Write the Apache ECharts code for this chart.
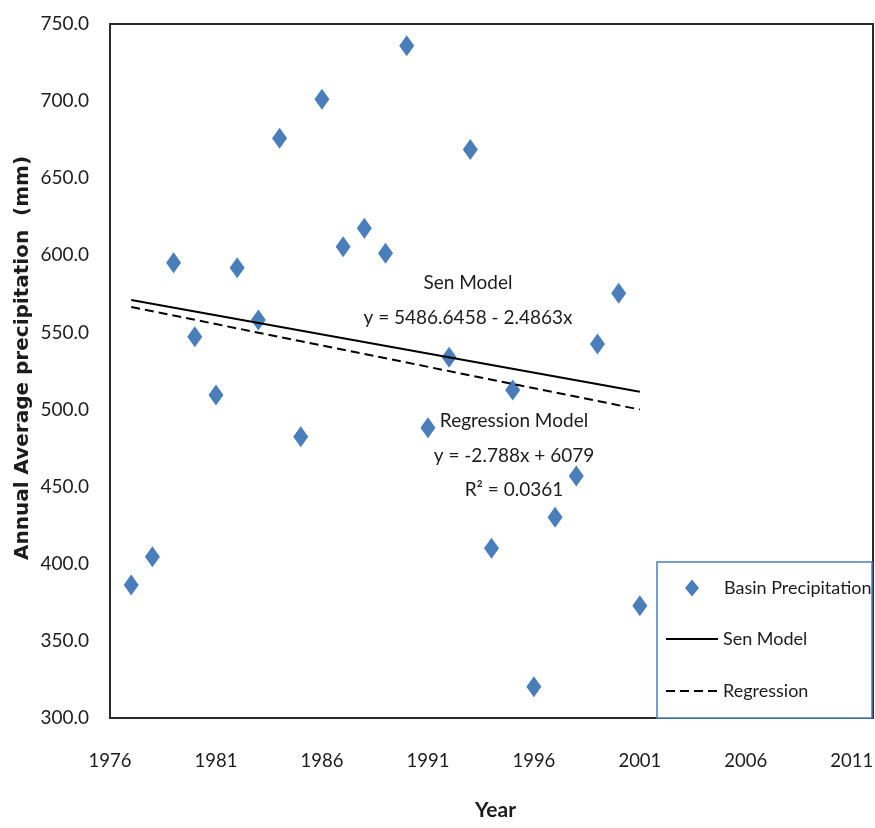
<!DOCTYPE html>
<html>
<head>
<meta charset="utf-8">
<script src="https://cdn.jsdelivr.net/npm/echarts/dist/echarts.min.js"></script>
<style>
  html, body { margin: 0; padding: 0; background: #fff; }
  #chart { width: 875px; height: 828px; }
</style>
</head>
<body>
<div id="chart"></div>
<script>
// ---- data ----
const years = [1977, 1978, 1979, 1980, 1981, 1982, 1983, 1984, 1985, 1986, 1987, 1988, 1989,
               1990, 1991, 1992, 1993, 1994, 1995, 1996, 1997, 1998, 1999, 2000, 2001];
const precipitation = [386.2, 404.6, 595.2, 547.2, 509.4, 592.0, 558.1, 675.9, 482.4, 701.2, 605.6, 617.5, 601.3,
                       735.9, 488.2, 533.9, 668.7, 410.0, 512.7, 320.3, 430.1, 456.9, 542.5, 575.4, 372.8];
const trendYears = [1977, 2001];
const senValues = [571.0, 511.6];
const regressionValues = [566.5, 500.0];
const xMin = 1976, xMax = 2012, xStep = 5;
const yMin = 300, yMax = 750, yStep = 50;
const seriesNames = ['Basin Precipitation', 'Sen Model', 'Regression'];
const senLabel = ['Sen Model', 'y = 5486.6458 - 2.4863x'];
const regLabel = ['Regression Model', 'y = -2.788x + 6079', 'R\u00B2 = 0.0361'];
const xTitle = 'Year';
const yTitle = 'Annual Average precipitation  (mm)';

// ---- chart ----
const FONT = "Lato, 'Open Sans', sans-serif";
const TXT = '#1c1c1c';
const chart = echarts.init(document.getElementById('chart'), null, { renderer: 'canvas' });

const pts = years.map((y, i) => [y, precipitation[i]]);
const sen = trendYears.map((y, i) => [y, senValues[i]]);
const reg = trendYears.map((y, i) => [y, regressionValues[i]]);

function annot(lines, cx, cy0, step) {
  return lines.map((t, i) => ({
    type: 'text', z: 10, x: cx, y: cy0 + i * step,
    style: { text: t, fontFamily: FONT, fontSize: 19, fill: TXT, align: 'center', verticalAlign: 'middle' }
  }));
}

const legendText = { fontFamily: FONT, fontSize: 18, color: TXT, lineHeight: 16 };
const hiddenSymbol = { color: 'rgba(0,0,0,0)', borderWidth: 0, opacity: 0 };

chart.setOption({
  backgroundColor: '#fff',
  animation: false,
  grid: { left: 110, top: 24, width: 763, height: 694, show: true, borderColor: '#2a2a2a', borderWidth: 2,
          backgroundColor: 'transparent', outerBoundsMode: 'none', containLabel: false },
  xAxis: {
    type: 'value', min: xMin, max: xMax, interval: xStep,
    name: xTitle, nameLocation: 'middle', nameGap: 82,
    nameTextStyle: { fontFamily: FONT, fontSize: 21, fontWeight: 'bold', color: TXT, padding: [0, 0, 0, 8] },
    axisLine: { show: false }, axisTick: { show: false }, splitLine: { show: false },
    axisLabel: {
      fontFamily: FONT, fontSize: 18.5, color: TXT, margin: 34,
      formatter: v => ((v - xMin) % xStep === 0 ? String(v) : ''),
      showMaxLabel: false
    }
  },
  yAxis: {
    type: 'value', min: yMin, max: yMax, interval: yStep,
    axisLine: { show: false }, axisTick: { show: false }, splitLine: { show: false },
    axisLabel: { fontFamily: FONT, fontSize: 19, color: TXT, margin: 21, formatter: v => v.toFixed(1) }
  },
  legend: [
    { orient: 'vertical', left: 685, top: 579, z: 20, padding: 0,
      itemWidth: 14, itemHeight: 17, selectedMode: false,
      textStyle: Object.assign({ padding: [0, 0, 0, 20] }, legendText),
      data: [{ name: seriesNames[0] }] },
    { orient: 'vertical', left: 665, top: 630, z: 20, padding: 0,
      itemWidth: 52, itemHeight: 16, selectedMode: false, textStyle: legendText,
      data: [{ name: seriesNames[1], itemStyle: hiddenSymbol }] },
    { orient: 'vertical', left: 665, top: 682, z: 20, padding: 0,
      itemWidth: 52, itemHeight: 16, selectedMode: false, textStyle: legendText,
      data: [{ name: seriesNames[2], itemStyle: hiddenSymbol }] }
  ],
  graphic: [
    { type: 'rect', z: 10, shape: { x: 657, y: 562, width: 215, height: 156 },
      style: { fill: '#fff', stroke: '#4f7fbc', lineWidth: 1.5 } },
    { type: 'text', z: 10, x: 23, y: 358, rotation: Math.PI / 2,
      style: { text: yTitle, font: "bold 20px 'DejaVu Sans', Verdana, sans-serif", fill: TXT,
               align: 'center', verticalAlign: 'middle' } }
  ].concat(annot(senLabel, 468, 283, 35)).concat(annot(regLabel, 514, 421, 34.5)),
  series: [
    {
      name: seriesNames[0], type: 'scatter', data: pts,
      symbol: 'diamond', symbolSize: [15, 21],
      itemStyle: { color: '#4a7ebb', opacity: 1 }, z: 2
    },
    {
      name: seriesNames[1], type: 'line', data: sen, symbol: 'none',
      itemStyle: { color: '#000' },
      lineStyle: { color: '#000', width: 2, type: 'solid' }, z: 3
    },
    {
      name: seriesNames[2], type: 'line', data: reg, symbol: 'none',
      itemStyle: { color: '#000' },
      lineStyle: { color: '#000', width: 2, type: [9, 5] }, z: 3
    }
  ]
});
</script>
</body>
</html>
